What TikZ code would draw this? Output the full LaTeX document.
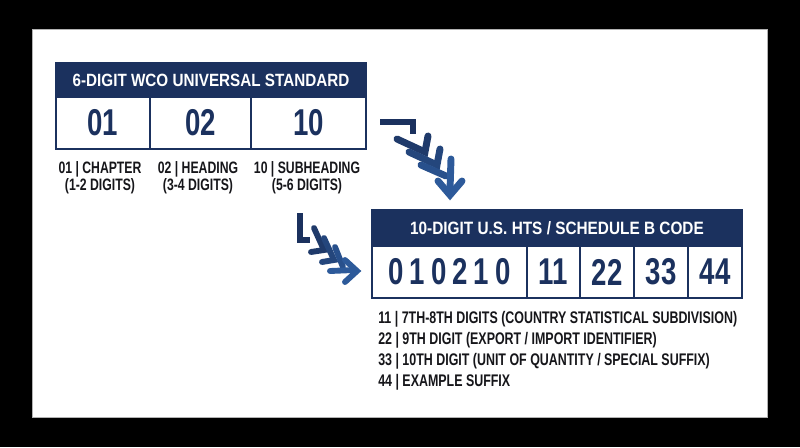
\documentclass[tikz,border=0pt]{standalone}
\usepackage{fontspec}
\setmainfont{Liberation Sans}[FakeStretch=0.74]
\newfontfamily\hdrfont{Liberation Sans}[FakeStretch=0.86]
\definecolor{navy}{RGB}{27,49,94}
\definecolor{ink}{RGB}{22,22,26}
\definecolor{blueA}{RGB}{31,58,106}
\definecolor{blueB}{RGB}{36,70,124}
\definecolor{blueC}{RGB}{40,80,140}
\definecolor{blueD}{RGB}{45,90,154}
\tikzset{
  hdr/.style={fill=navy, draw=navy, line width=1.5pt, text=white, inner sep=0pt,
    font=\hdrfont\bfseries\fontsize{13.3}{14}\selectfont},
  cell/.style={draw=navy, line width=1.5pt, text=navy, inner sep=0pt, minimum height=39pt,
    font=\bfseries\fontsize{28}{30}\selectfont},
  lbl/.style={text=ink, inner sep=0pt, font=\bfseries\fontsize{12.4}{13}\selectfont},
  chev/.style={line width=5.2pt, line join=miter},
  chevs/.style={line width=4.4pt, line join=miter}
}
\begin{document}
\begin{tikzpicture}[x=0.75pt, y=-0.75pt]
% page
\fill[black] (0,0) rectangle (800,447);
\fill[white] (32,29) rectangle (767,417);
\draw[gray!60, line width=0.5pt] (32,29) rectangle (767,417);

% 6-digit box
\node[hdr, minimum width=232.5pt, minimum height=25.5pt] (wco) at (211,80) {6-DIGIT WCO UNIVERSAL STANDARD};
\node[cell, minimum width=70.5pt] (ch) at (103,123) {01};
\node[cell, minimum width=75.75pt] (hd) at (200.5,123) {02};
\node[cell, minimum width=86.25pt] (sh) at (308.5,123) {10};
\node[lbl, align=center] (chl) at (100,178) {01 | CHAPTER\\(1-2 DIGITS)};
\node[lbl, align=center] (hdl) at (198,178) {02 | HEADING\\(3-4 DIGITS)};
\node[lbl, align=center] (shl) at (307,178) {10 | SUBHEADING\\(5-6 DIGITS)};

% 10-digit box
\node[hdr, minimum width=277.5pt, minimum height=27pt, font=\hdrfont\bfseries\fontsize{13.4}{15}\selectfont] (hts) at (557,228) {10-DIGIT U.S. HTS / SCHEDULE B CODE};
\node[cell, minimum width=116.25pt, font=\bfseries\fontsize{28}{30}\selectfont\addfontfeature{LetterSpace=16}] (six) at (449.5,272) {010210};
\node[cell, minimum width=39.75pt] (d11) at (553.5,272) {11};
\node[cell, minimum width=40.5pt] (d22) at (607,272) {22};
\node[cell, minimum width=40.5pt] (d33) at (661,272) {33};
\node[cell, minimum width=40.5pt] (d44) at (715,272) {44};
\node[lbl, align=left, anchor=west, font=\bfseries\fontsize{12.6}{15.75}\selectfont] (notes) at (378,350.5)
  {11 | 7TH-8TH DIGITS (COUNTRY STATISTICAL SUBDIVISION)\\
   22 | 9TH DIGIT (EXPORT / IMPORT IDENTIFIER)\\
   33 | 10TH DIGIT (UNIT OF QUANTITY / SPECIAL SUFFIX)\\
   44 | EXAMPLE SUFFIX};

% chevron arrow: 6-digit box -> 10-digit box
\coordinate (a1) at (380,122);
\draw[chev, navy] (a1) -- (413,122) -- (413,134);
\draw[chev, blueA, line cap=round] (397,139) -- (425,152) -- (428,136);
\draw[chev, blueB, line cap=round] (409,152) -- (437,165) -- (440,149);
\draw[chev, blueC, line cap=round] (421,165) -- (446,176);
\draw[chev, blueD, line cap=round] (451,159) -- (450,190);
\draw[chev, blueD, line cap=round] (438,181) -- (450,195) -- (462,181);

% chevron arrow: subheading -> 10-digit box
\coordinate (a2) at (300,213);
\draw[chevs, navy] (a2) -- (300,240) -- (310,240);
\draw[chevs, blueA, line cap=round] (314,228) -- (324,250) -- (311,252);
\draw[chevs, blueB, line cap=round] (324,238) -- (334,260) -- (322,262);
\draw[chevs, blueC, line cap=round] (335,247) -- (343,267);
\draw[chevs, blueD, line cap=round] (330,271) -- (354,270);
\draw[chevs, blueD, line cap=round] (345,260) -- (357,271) -- (345,282);
\end{tikzpicture}
\end{document}
